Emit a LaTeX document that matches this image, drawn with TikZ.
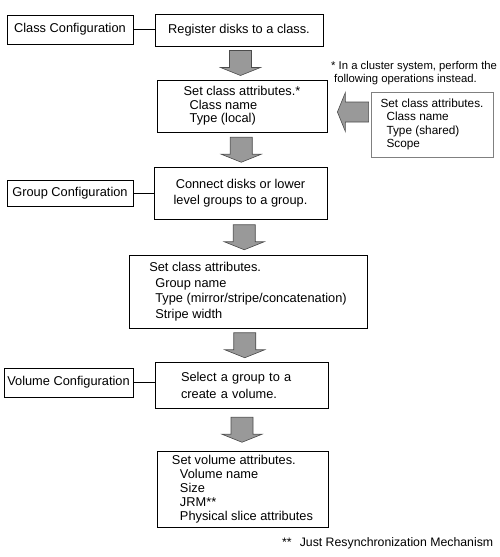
\documentclass[tikz,border=0pt]{standalone}
\usepackage{fontspec}
\setmainfont{Liberation Sans}
\usetikzlibrary{calc}
\begin{document}
\begin{tikzpicture}
[x=1pt,y=-1pt,
 boxdecorate/.style={shape=rectangle,draw,line width=0.8pt,inner sep=0pt,align=left,font=\fontsize{12.8}{#1}\selectfont},
 boxdecorate/.default=15,
 sidedecorate/.style={shape=rectangle,draw=black!50,line width=0.8pt,inner sep=0pt,align=left,font=\fontsize{11.8}{13.5}\selectfont},
 notedecorate/.style={inner sep=0pt,align=left,font=\fontsize{#1}{13}\selectfont},
 linedecorate/.style={-,line width=0.8pt},
 arrowdecorate/.style={fill=black!40,draw=black!70,line width=0.6pt,line join=miter}]
\useasboundingbox (0,0) rectangle (500,557);
%% configuration steps
\node (classconf) at (70,29.5) [boxdecorate,minimum width=126,minimum height=29] {Class Configuration};
\node (groupconf) at (70,193) [boxdecorate,minimum width=126,minimum height=26] {Group Configuration};
\node (volconf) at (68.5,382.5) [boxdecorate,minimum width=129,minimum height=29] {Volume Configuration};
%% operations
\node (reg) at (239,30) [boxdecorate,minimum width=168,minimum height=32] {Register disks to a class.};
\node (cattr) at (242,106) [boxdecorate=13.5,minimum width=170,minimum height=52]
  {Set class attributes.*\\\hspace*{6pt}Class name\\\hspace*{6pt}Type (local)};
\node (conn) at (240.5,193.5) [boxdecorate=16,align=center,minimum width=173,minimum height=52]
  {Connect disks or lower\\level groups to a group.};
\node (gattr) at (248,291.5) [boxdecorate=15.5,minimum width=238,minimum height=73]
  {Set class attributes.\\\hspace*{6pt}Group name\\\hspace*{6pt}Type (mirror/stripe/concatenation)\\\hspace*{6pt}Stripe width};
\node (sel) at (241.5,385.5) [boxdecorate=17,text width=121,minimum width=173,minimum height=46]
  {Select a group to a\\create a volume.};
\node (vattr) at (242.5,489) [boxdecorate=14,minimum width=171,minimum height=76]
  {Set volume attributes.\\\hspace*{8pt}Volume name\\\hspace*{8pt}Size\\\hspace*{8pt}JRM**\\\hspace*{8pt}Physical slice attributes};
\node (side) at (432,124.5) [sidedecorate,minimum width=122,minimum height=65]
  {Set class attributes.\\\hspace*{6pt}Class name\\\hspace*{6pt}Type (shared)\\\hspace*{6pt}Scope};
%% notes
\node (note) at (331,73.5) [notedecorate=11.3,anchor=west]
  {* In a cluster system, perform the\\\hspace*{3pt}following operations instead.};
\node (foot) at (282,543) [notedecorate=12.3,anchor=west] {**\hspace*{8pt}Just Resynchronization Mechanism};
%% lines
\foreach \startnode/\endnode in {classconf/reg, groupconf/conn, volconf/sel} {
  \draw[linedecorate] (\startnode.east) -- (\startnode.east -| \endnode.west);
}
%% block arrows
\foreach \upper/\lower in {reg/cattr, cattr/conn, conn/gattr, gattr/sel, sel/vattr} {
  \coordinate (mid) at ($(\upper.south)!0.5!(\lower.north)$);
  \draw[arrowdecorate] ($(mid)+(-11,-12.5)$) -- ++(22,0) -- ++(0,17) -- ++(9,0)
    -- ($(mid)+(0,12.5)$) -- ++(-20,-8) -- ++(9,0) -- cycle;
}
\coordinate (tip) at ($(cattr.east)+(10,6)$);
\coordinate (tail) at ($(tip -| side.west)+(-2,0)$);
\draw[arrowdecorate] (tip) -- ++(8,-19.5) -- ++(0,9.5) -- ($(tail)+(0,-10)$)
  -- ($(tail)+(0,10)$) -- ($(tip)+(8,10)$) -- ($(tip)+(8,19.5)$) -- cycle;
\end{tikzpicture}
\end{document}
